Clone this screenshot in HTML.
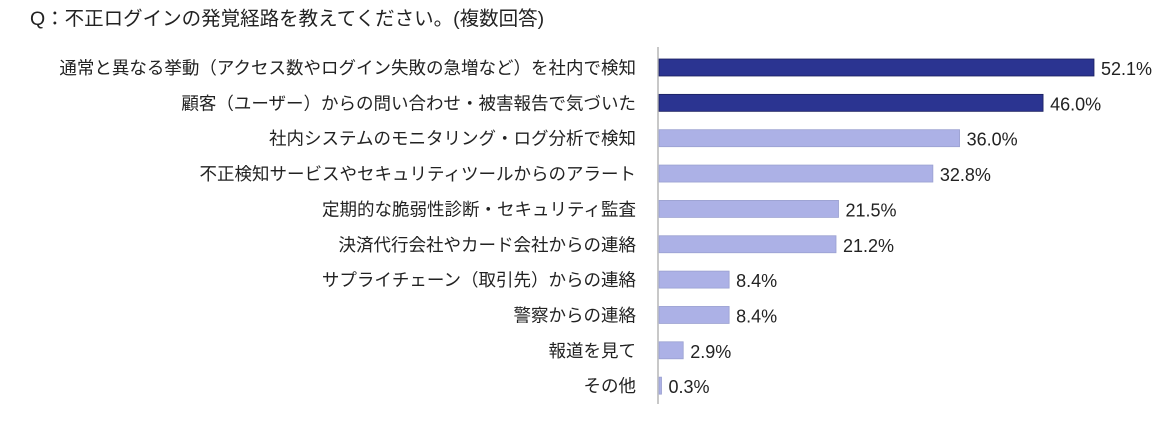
<!DOCTYPE html>
<html><head><meta charset="utf-8">
<style>
html,body{margin:0;padding:0;background:#fff;}
body{width:1170px;height:422px;overflow:hidden;font-family:"Liberation Sans","Noto Sans CJK JP",sans-serif;}
</style></head>
<body>
<svg width="1170" height="422" id="chart" style="position:absolute;left:0;top:0">
<text x="30" y="25" font-size="19.5" fill="#222" font-family="Liberation Sans, Noto Sans CJK JP, sans-serif">Q：不正ログインの発覚経路を教えてください。(複数回答)</text>
<line x1="658" y1="47" x2="658" y2="404" stroke="#c8c8c8" stroke-width="2"/>
</svg>
<script>
const categories=["通常と異なる挙動（アクセス数やログイン失敗の急増など）を社内で検知","顧客（ユーザー）からの問い合わせ・被害報告で気づいた","社内システムのモニタリング・ログ分析で検知","不正検知サービスやセキュリティツールからのアラート","定期的な脆弱性診断・セキュリティ監査","決済代行会社やカード会社からの連絡","サプライチェーン（取引先）からの連絡","警察からの連絡","報道を見て","その他"];
const values=[52.1,46.0,36.0,32.8,21.5,21.2,8.4,8.4,2.9,0.3];
const valueLabels=["52.1%","46.0%","36.0%","32.8%","21.5%","21.2%","8.4%","8.4%","2.9%","0.3%"];
const highlight=[true,true,false,false,false,false,false,false,false,false];
const svg=document.getElementById('chart');
const NS='http://www.w3.org/2000/svg';
const x0=659, pxPer=(1094-659)/52.1;
function xs(v){return x0+v*pxPer;}
function ys(i){return 59+i*35.35;}
const ff="Liberation Sans, Noto Sans CJK JP, sans-serif";
categories.forEach((c,i)=>{
  const t=document.createElementNS(NS,'text');
  
  
  t.setAttribute('x',636);t.setAttribute('y',ys(i)+15);
  t.setAttribute('text-anchor','end');t.setAttribute('font-size','17.5');
  t.setAttribute('fill','#222');t.setAttribute('font-family',ff);
  t.textContent=c;svg.appendChild(t);
  const r=document.createElementNS(NS,'rect');
  
  
  r.setAttribute('x',x0);r.setAttribute('y',ys(i));
  r.setAttribute('width',Math.max(1,xs(values[i])-x0));r.setAttribute('height',17);
  r.setAttribute('fill',highlight[i]?'#2b3491':'#acb1e6');
  r.setAttribute('stroke',highlight[i]?'#1a1f5e':'#9aa0d0');r.setAttribute('stroke-width','0.8');
  svg.appendChild(r);
  const v=document.createElementNS(NS,'text');
  
  
  v.setAttribute('x',xs(values[i])+7);v.setAttribute('y',ys(i)+16);
  v.setAttribute('font-size','18');v.setAttribute('fill','#222');v.setAttribute('font-family',ff);
  v.textContent=valueLabels[i];svg.appendChild(v);
});
</script>
</body></html>
